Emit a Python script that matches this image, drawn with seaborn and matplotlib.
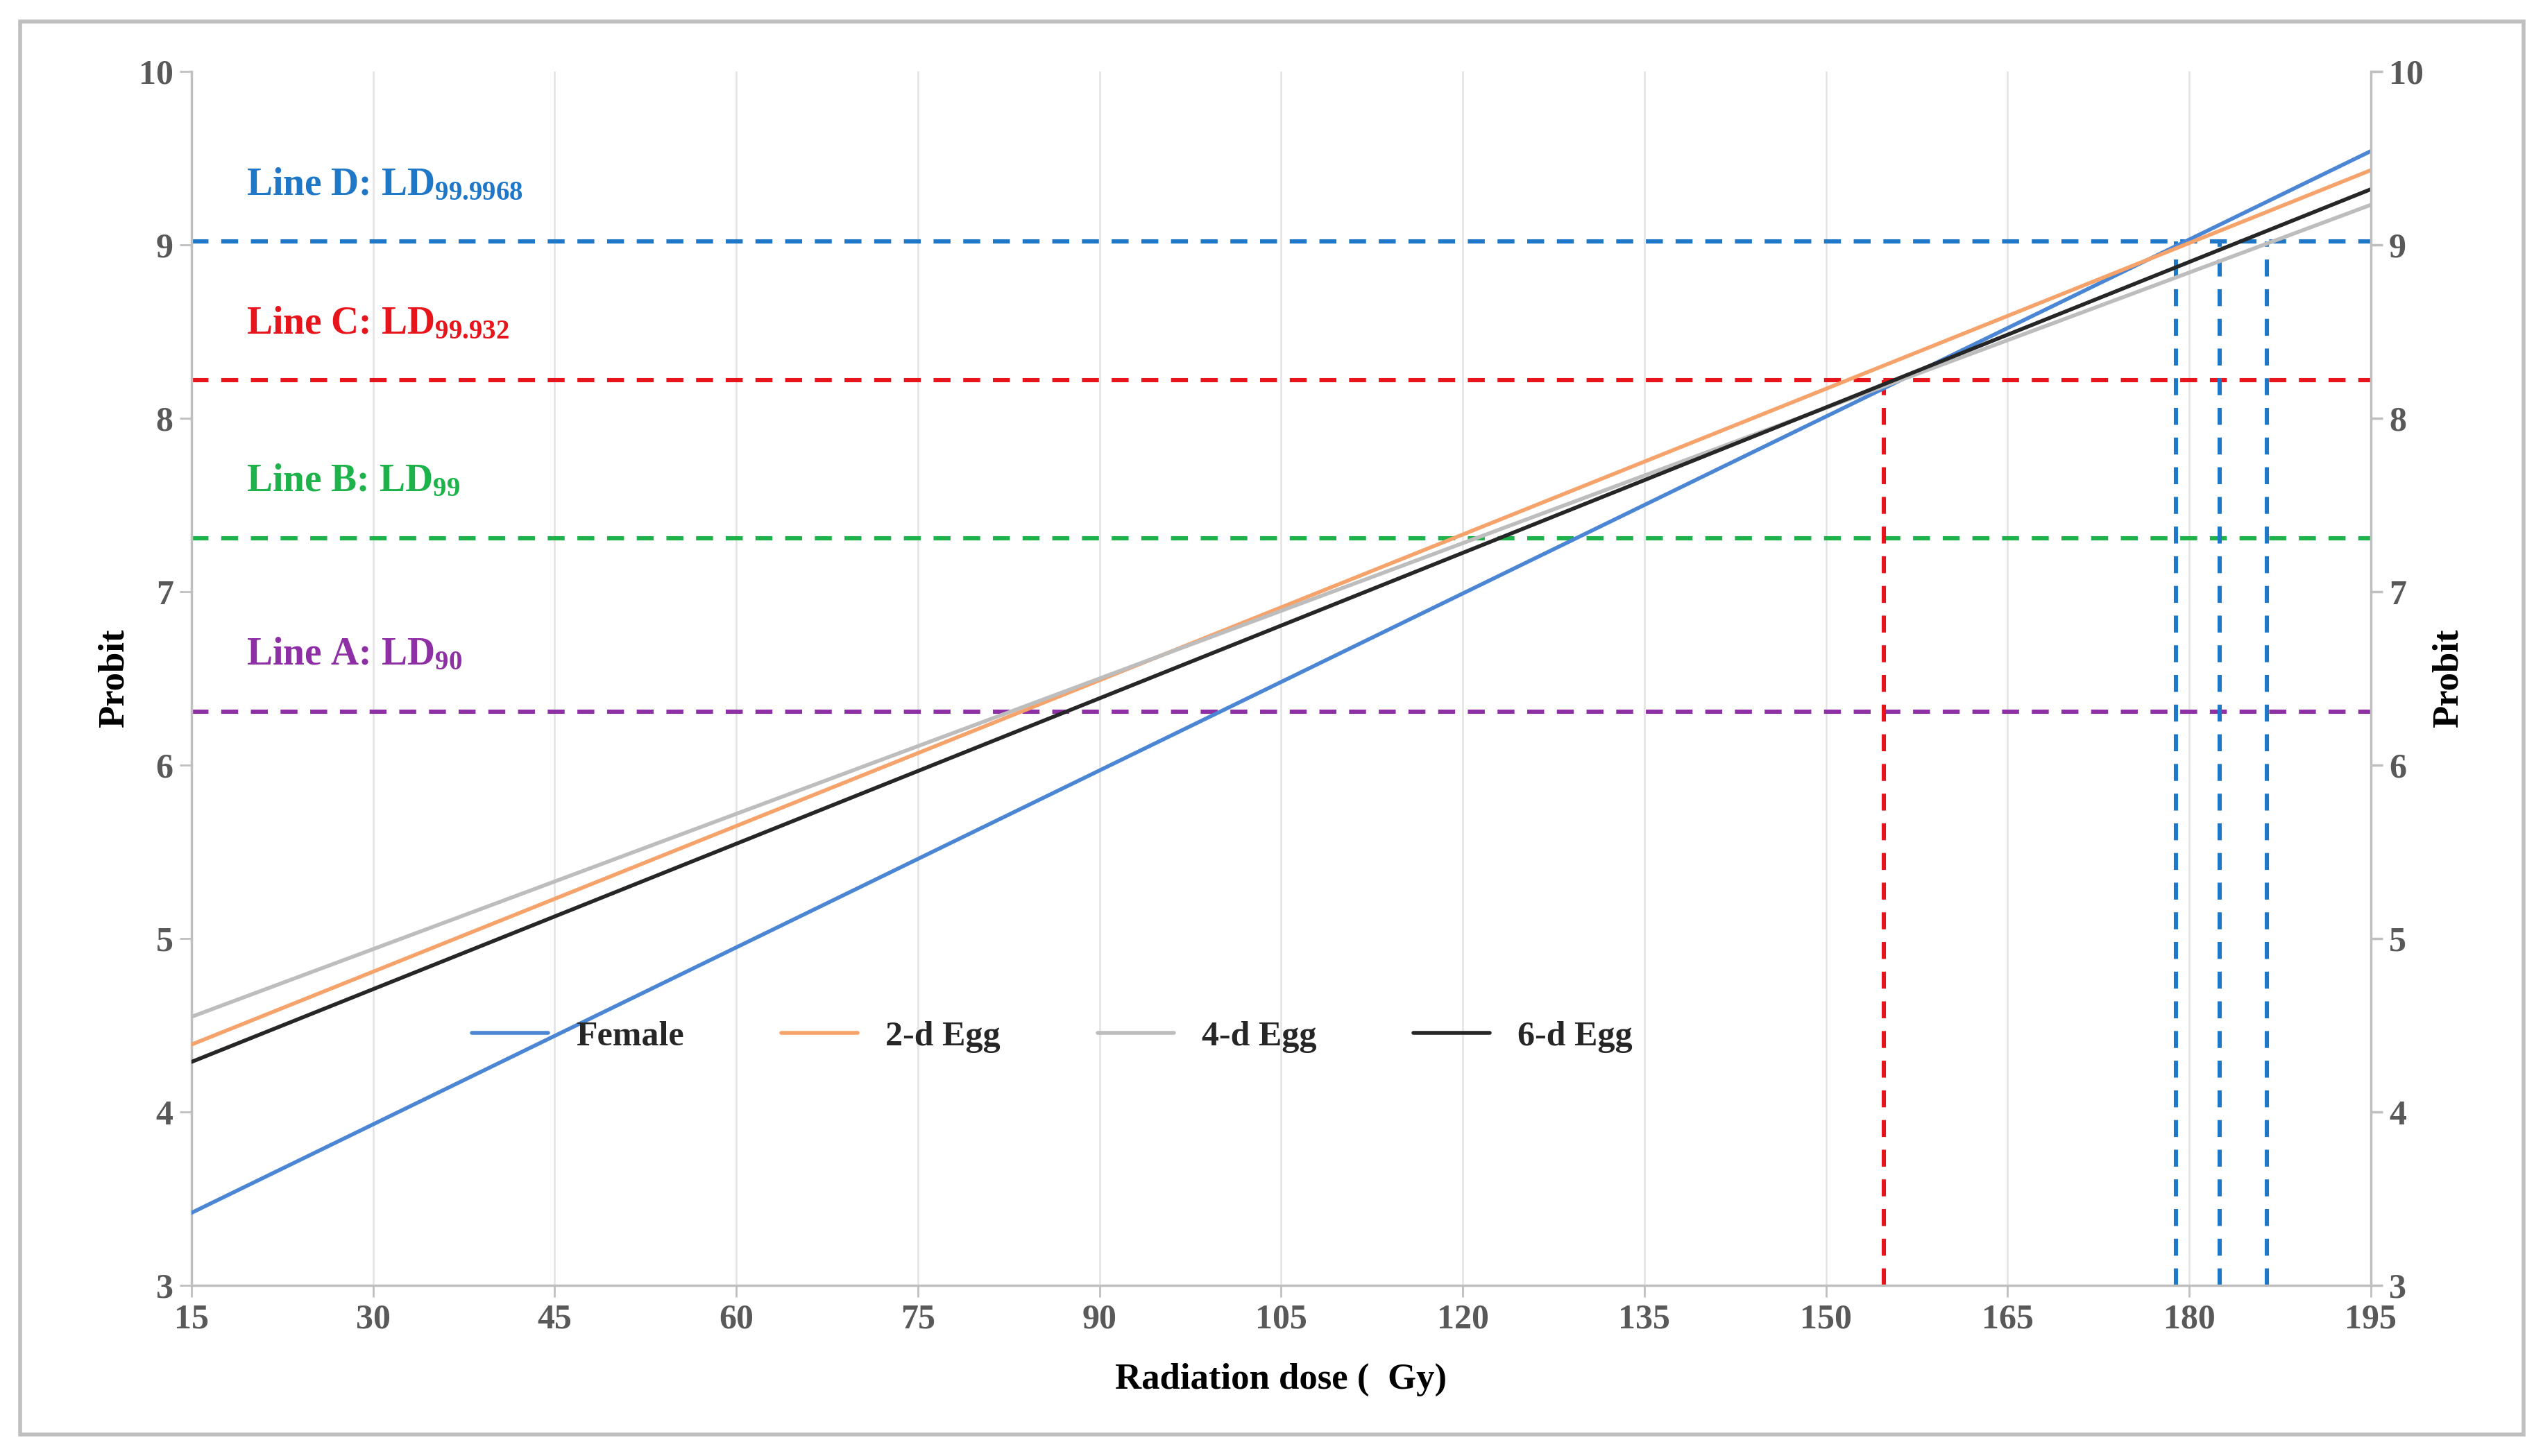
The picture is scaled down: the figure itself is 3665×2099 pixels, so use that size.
import matplotlib
matplotlib.use("Agg")
import matplotlib.pyplot as plt
import seaborn as sns
import pandas as pd
from matplotlib.patches import Rectangle

sns.set_theme(style="white")
plt.rcParams['font.family'] = ['Liberation Serif', 'DejaVu Serif']
plt.rcParams['mathtext.fontset'] = 'custom'
plt.rcParams['mathtext.rm'] = 'Liberation Serif:bold'
plt.rcParams['mathtext.bf'] = 'Liberation Serif:bold'
plt.rcParams['mathtext.it'] = 'Liberation Serif:bold'

dose_ends = [15, 195]
series = ["Female", "2-d Egg", "4-d Egg", "6-d Egg"]
female = [3.42, 9.54]
egg2 = [4.39, 9.43]
egg4 = [4.55, 9.23]
egg6 = [4.29, 9.32]
colors = ["#4a86d4", "#f5a36b", "#bdbdbd", "#262626"]

ref_labels = ["Line D: LD", "Line C: LD", "Line B: LD", "Line A: LD"]
ref_subs = ["99.9968", "99.932", "99", "90"]
ref_probit = [9.02, 8.22, 7.31, 6.31]
ref_colors = ["#1f77c8", "#e8141c", "#1db34a", "#8e2fa6"]
red_dose = [154.8]
blue_doses = [178.9, 182.5, 186.4]

rows = []
for name, vals in zip(series, [female, egg2, egg4, egg6]):
    for d, v in zip(dose_ends, vals):
        rows.append({"dose": d, "probit": v, "series": name})
df = pd.DataFrame(rows)

fig = plt.figure(figsize=(18.33, 10.495), dpi=200)
ax = fig.add_axes([0.0753, 0.117, 0.8567, 0.834])
ax.set_xlim(15, 195)
ax.set_ylim(3, 10)
ax.set_xticks(range(15, 196, 15))
ax.set_yticks(range(3, 11))
ax.grid(axis="x", color="#e3e3e3", lw=0.9)
ax.grid(axis="y", visible=False)

for y, c, lab, sub in zip(ref_probit, ref_colors, ref_labels, ref_subs):
    ax.plot([15, 195], [y, y], ls=(0, (4, 3)), color=c, lw=2.2, zorder=2)
    ax.text(19.5, y + 0.22, lab + "$_{\\mathrm{" + sub + "}}$", color=c, fontsize=20,
            fontweight="bold", va="bottom", ha="left")
for d in red_dose:
    ax.plot([d, d], [3, ref_probit[1]], ls=(0, (4, 3)), color=ref_colors[1], lw=2.2, zorder=2)
for d in blue_doses:
    ax.plot([d, d], [3, ref_probit[0]], ls=(0, (4, 3)), color=ref_colors[0], lw=2.2, zorder=2)

sns.lineplot(data=df, x="dose", y="probit", hue="series", palette=colors, lw=2,
             ax=ax, zorder=3)
ax.legend(loc="center", bbox_to_anchor=(0.395, 0.205), ncol=4, frameon=False,
          prop={"weight": "bold", "size": 18}, handlelength=2.2, columnspacing=2.8)

for s in ["top", "right"]:
    ax.spines[s].set_visible(False)
for s in ["left", "bottom"]:
    ax.spines[s].set_color("#bfbfbf")
ax.tick_params(axis="both", labelsize=18, colors="#595959", length=6, width=1, direction="out",
               bottom=True, left=True, color="#bfbfbf")
for t in ax.get_xticklabels() + ax.get_yticklabels():
    t.set_fontweight("bold")
ax.set_xlabel("Radiation dose (  Gy)", fontsize=19, fontweight="bold", color="black", labelpad=14)
ax.set_ylabel("Probit", fontsize=19, fontweight="bold", color="black")

ax2 = ax.twinx()
ax2.set_ylim(3, 10)
ax2.set_yticks(range(3, 11))
for s in ["top", "left", "bottom"]:
    ax2.spines[s].set_visible(False)
ax2.spines["right"].set_color("#bfbfbf")
ax2.tick_params(axis="y", labelsize=18, colors="#595959", length=6, right=True, color="#bfbfbf")
for t in ax2.get_yticklabels():
    t.set_fontweight("bold")
ax2.set_ylabel("Probit", fontsize=19, fontweight="bold", color="black")
ax2.grid(False)

fig.patches.append(Rectangle((0.008, 0.015), 0.984, 0.97, transform=fig.transFigure,
                             fill=False, ec="#bfbfbf", lw=2))
fig.savefig("out.png", dpi=200)
